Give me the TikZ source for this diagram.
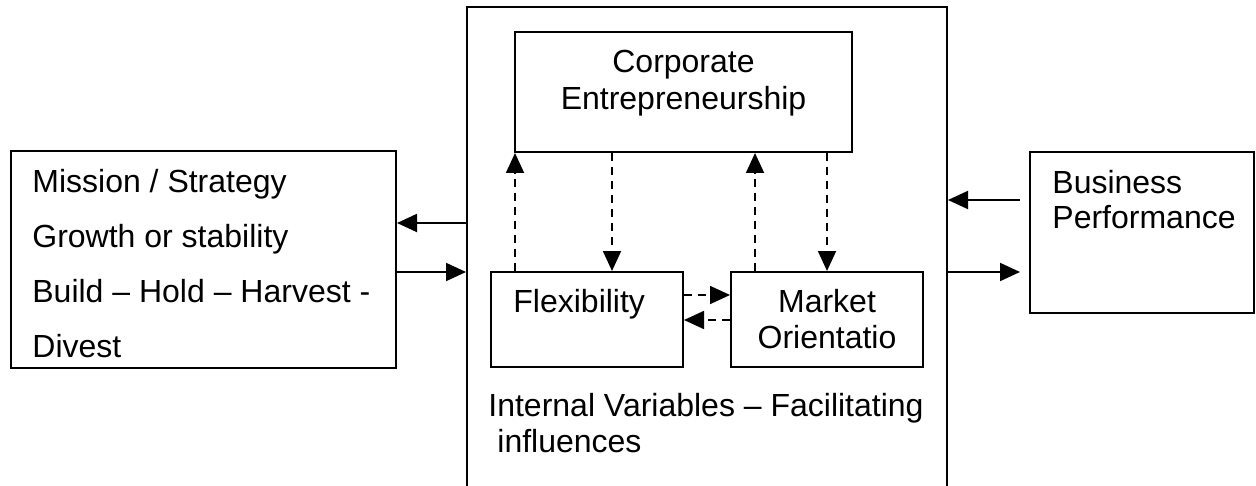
\documentclass[tikz,border=0pt]{standalone}
\usepackage{fontspec}
\setmainfont{Liberation Sans}
\usetikzlibrary{positioning,arrows.meta}

\begin{document}
\begin{tikzpicture}[x=0.5pt,y=-0.5pt,
    box/.style={draw,line width=1pt,inner sep=0pt},
    txt/.style={inner sep=0pt,align=left,font=\fontsize{16}{18}\selectfont},
    arr/.style={line width=1pt,-{Triangle[length=10pt,width=9pt]}},
    darr/.style={arr,line width=0.85pt,dash pattern=on 4pt off 3pt}]
    \useasboundingbox (0,0) rectangle (1256,486);
    \clip (0,0) rectangle (1256,486);
    % boxes
    \node[box,minimum width=192.5pt,minimum height=108.5pt] (mission) at (203.5,259.5) {};
    \node[box,minimum width=240pt,minimum height=261.5pt] (infl) at (707,268.5) {};
    \node[box,minimum width=168.5pt,minimum height=60pt] (corp) at (683.5,92) {};
    \node[box,minimum width=96pt,minimum height=47.5pt] (flex) at (587,319.5) {};
    \node[box,minimum width=96pt,minimum height=47.5pt] (market) at (827,319.5) {};
    \node[box,minimum width=112pt,minimum height=80.5pt] (perf) at (1142,232.5) {};
    \coordinate (pin) at (1020,200);
    \coordinate (pout) at (1020,272);
    % texts (base = last line)
    \node[txt,anchor=base west,font=\fontsize{16}{27.5}\selectfont] (missiontxt) at (32,357)
        {Mission / Strategy\\Growth or stability\\Build – Hold – Harvest -\\Divest};
    \node[txt,align=center,anchor=base,font=\fontsize{16}{18.5}\selectfont] (corptxt) at (683.5,110)
        {Corporate\\Entrepreneurship};
    \node[txt,anchor=base west] (flextxt) at (513,312) {Flexibility};
    \node[txt,align=center,anchor=base] (markettxt) at (827,348) {Market\\Orientatio};
    \node[txt,anchor=base west] (infltxt) at (488,452)
        {Internal Variables – Facilitating\\\hspace*{4.5pt}influences};
    \node[txt,anchor=base west,font=\fontsize{16}{17.5}\selectfont] (perftxt) at (1052,228)
        {Business\\Performance};
    % connectors
    \draw[arr] (infl.west |- 0,223) -- (mission.east |- 0,223);
    \draw[arr] (mission.east |- 0,272) -- (infl.west |- 0,272);
    \draw[arr] (pin) -- (infl.east |- pin);
    \draw[arr] (infl.east |- pout) -- (pout);
    \draw[darr] (flex.north -| 515,0) -- (corp.south -| 515,0);
    \draw[darr] (corp.south -| 612,0) -- (flex.north -| 612,0);
    \draw[darr] (market.north -| 755,0) -- (corp.south -| 755,0);
    \draw[darr] (corp.south -| 827,0) -- (market.north -| 827,0);
    \draw[darr] (flex.east |- 0,295) -- (market.west |- 0,295);
    \draw[darr] (market.west |- 0,320) -- (flex.east |- 0,320);
\end{tikzpicture}
\end{document}
